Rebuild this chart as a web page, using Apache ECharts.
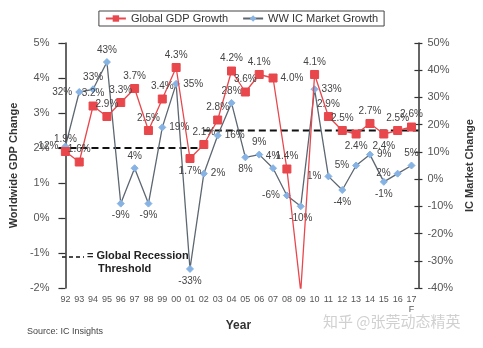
<!DOCTYPE html>
<html>
<head>
<meta charset="utf-8">
<script src="https://cdn.jsdelivr.net/npm/echarts@6/dist/echarts.min.js"></script>
<style>
  html, body { margin: 0; padding: 0; background: #fff; }
  #chart { width: 483px; height: 348px; }
</style>
</head>
<body>
<div id="chart"></div>
<script>
// Year labels (two-digit), 2017 is a forecast
const years = ['92','93','94','95','96','97','98','99','00','01','02','03','04','05','06','07','08','09','10','11','12','13','14','15','16','17'];
const forecastYear = '17';

// Global GDP growth, % (left axis)
const gdpGrowth = [1.9, 1.6, 3.2, 2.9, 3.3, 3.7, 2.5, 3.4, 4.3, 1.7, 2.1, 2.8, 4.2, 3.6, 4.1, 4.0, 1.4, -2.1, 4.1, 2.9, 2.5, 2.4, 2.7, 2.4, 2.5, 2.6];

// Worldwide IC market growth, % (right axis)
const icGrowth = [12, 32, 33, 43, -9, 4, -9, 19, 35, -33, 2, 16, 28, 8, 9, 4, -6, -10, 33, 1, -4, 5, 9, -1, 2, 5];

// Global recession threshold, % GDP growth: before and after 2002
const thresholdEarly = 2.0;
const thresholdLate = 2.5;
const thresholdSwitchIndex = 10; // '02'

// Label placement for each point
const gdpLabelPos = ['top','top','top','top','top','top','top','top','top','bottom','top','top','top','top','top','right','top','right','top','top','top','bottom','top','bottom','top','top'];
const icLabelPos = ['left','left','top','top','bottom','top','bottom','right','right','bottom','right','right','top','bottom','top','top','left','bottom','right','left','bottom','left','right','bottom','left','top'];

const RED = '#e8474c';
const IC_LINE = '#5d6772';
const IC_MARK = '#86b3e3';
const AXIS = '#333';
const TXT = '#555';
const FONT = '"Liberation Sans", Arial, sans-serif';

const chart = echarts.init(document.getElementById('chart'), null, { renderer: 'canvas' });

const lblStyle = { fontSize: 10, color: '#444', fontFamily: FONT, distance: 3 };

const gdpData = gdpGrowth.map((v, i) => ({
  value: v,
  label: { position: gdpLabelPos[i] }
}));
const icData = icGrowth.map((v, i) => ({
  value: v,
  label: { position: icLabelPos[i] }
}));

const baseY = {
  type: 'value',
  splitLine: { show: false },
  axisLine: { show: true, lineStyle: { color: AXIS, width: 1.5 } },
  axisTick: { show: true, length: 4, lineStyle: { color: AXIS, width: 1.2 } },
  axisLabel: { fontSize: 11, color: TXT, fontFamily: FONT, formatter: '{value}%', margin: 9 }
};

const option = {
  animation: false,
  backgroundColor: '#fff',
  textStyle: { fontFamily: FONT },
  grid: { left: 57, right: 58, top: 43, bottom: 60, containLabel: false },
  legend: {
    top: 11,
    left: 'center',
    itemGap: 14,
    itemWidth: 20,
    itemHeight: 8,
    padding: [2, 6, 2, 6],
    borderColor: '#444',
    borderWidth: 1,
    textStyle: { fontSize: 11, color: '#333', fontFamily: FONT },
    data: ['Global GDP Growth', 'WW IC Market Growth']
  },
  xAxis: [
    {
      type: 'category',
      data: years,
      boundaryGap: true,
      axisLine: { show: false },
      axisTick: { show: false },
      axisLabel: {
        fontSize: 9, color: TXT, fontFamily: FONT, interval: 0, margin: 7, lineHeight: 10,
        formatter: v => v === forecastYear ? v + '\nF' : v
      },
      name: 'Year',
      nameLocation: 'middle',
      nameGap: 28,
      nameTextStyle: { fontSize: 12, fontWeight: 'bold', color: '#333', fontFamily: FONT }
    },
    {
      // helper scale spanning the full category band, for the threshold lines
      type: 'value',
      min: -0.5,
      max: years.length - 0.5,
      show: false
    }
  ],
  yAxis: [
    Object.assign({}, baseY, {
      position: 'left', min: -2, max: 5, interval: 1,
      name: 'Worldwide GDP Change', nameLocation: 'middle', nameGap: 34, nameRotate: 90,
      nameTextStyle: { fontSize: 11, fontWeight: 'bold', color: '#333', fontFamily: FONT }
    }),
    Object.assign({}, baseY, {
      position: 'right', min: -40, max: 50, interval: 10,
      name: 'IC Market Change', nameLocation: 'middle', nameGap: 37, nameRotate: 90,
      nameTextStyle: { fontSize: 11, fontWeight: 'bold', color: '#333', fontFamily: FONT }
    }),
    // inner tick halves so the ticks cross the axis lines
    {
      type: 'value', position: 'left', min: -2, max: 5, interval: 1,
      splitLine: { show: false }, axisLabel: { show: false },
      axisLine: { show: false },
      axisTick: { show: true, inside: true, length: 4, lineStyle: { color: AXIS, width: 1.2 } }
    },
    {
      type: 'value', position: 'right', min: -40, max: 50, interval: 10,
      splitLine: { show: false }, axisLabel: { show: false },
      axisLine: { show: false },
      axisTick: { show: true, inside: true, length: 4, lineStyle: { color: AXIS, width: 1.2 } }
    }
  ],
  series: [
    {
      name: 'Threshold early',
      type: 'line',
      xAxisIndex: 1,
      yAxisIndex: 0,
      data: [[-0.5, thresholdEarly], [thresholdSwitchIndex, thresholdEarly]],
      symbol: 'none',
      lineStyle: { color: '#111', width: 2, type: [7, 4] },
      silent: true,
      z: 1
    },
    {
      name: 'Threshold late',
      type: 'line',
      xAxisIndex: 1,
      yAxisIndex: 0,
      data: [[thresholdSwitchIndex, thresholdLate], [years.length - 0.5, thresholdLate]],
      symbol: 'none',
      lineStyle: { color: '#111', width: 2, type: [7, 4] },
      silent: true,
      z: 1
    },
    {
      name: 'WW IC Market Growth',
      type: 'line',
      yAxisIndex: 1,
      data: icData,
      symbol: 'diamond',
      symbolSize: 7,
      lineStyle: { color: IC_LINE, width: 1.3 },
      itemStyle: { color: IC_MARK, borderColor: IC_MARK },
      label: Object.assign({ show: true, formatter: p => p.value + '%' }, lblStyle),
      z: 3
    },
    {
      name: 'Global GDP Growth',
      type: 'line',
      yAxisIndex: 0,
      data: gdpData,
      symbol: 'rect',
      symbolSize: 8,
      lineStyle: { color: RED, width: 1.3 },
      itemStyle: { color: RED, borderColor: RED },
      label: Object.assign({ show: true, formatter: p => p.value.toFixed(1) + '%' }, lblStyle),
      z: 4
    }
  ],
  graphic: [
    {
      type: 'line',
      shape: { x1: 62, y1: 257, x2: 84, y2: 257 },
      style: { stroke: '#111', lineWidth: 1.5, lineDash: [4, 3] }
    },
    {
      type: 'text', left: 87, top: 250,
      style: { text: '= Global Recession', fill: '#222', font: 'bold 11px ' + FONT }
    },
    {
      type: 'text', left: 98, top: 263,
      style: { text: 'Threshold', fill: '#222', font: 'bold 11px ' + FONT }
    },
    {
      type: 'text', left: 27, top: 327,
      style: { text: 'Source: IC Insights', font: '9px ' + FONT, fill: '#444' }
    },
    {
      type: 'text', left: 323, top: 314,
      style: { text: '知乎 @张莞动态精英', font: '15px "Noto Sans CJK SC"', fill: 'rgba(170,170,170,0.55)' }
    }
  ]
};

chart.setOption(option);
</script>
</body>
</html>
